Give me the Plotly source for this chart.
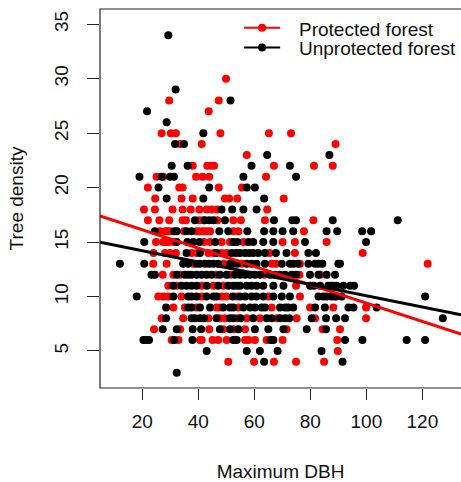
import plotly.graph_objects as go

# (Maximum DBH, Tree density)
protected = [
    (49.9, 30),
    (29.6, 28), (47.3, 28),
    (43.7, 27),
    (26.9, 25), (30.2, 25), (32.0, 25), (47.9, 25), (65.2, 25), (73.1, 25),
    (33.5, 24), (41.2, 24), (89.0, 24),
    (57.3, 23),
    (38.0, 22), (43.2, 22), (44.4, 22), (45.6, 22), (67.0, 22), (81.3, 22), (88.0, 22),
    (25.1, 21), (27.5, 21), (39.2, 21), (41.5, 21), (43.9, 21), (64.2, 21),
    (22.0, 20), (33.2, 20), (34.4, 20), (47.3, 20), (55.6, 20),
    (24.6, 19), (34.0, 19), (38.0, 19), (49.5, 19), (51.0, 19), (53.9, 19), (70.5, 19),
    (20.6, 18), (24.5, 18), (30.8, 18), (34.4, 18), (37.3, 18), (40.4, 18), (43.0, 18),
    (44.8, 18), (46.8, 18), (64.6, 18),
    (22.0, 17), (26.1, 17), (29.6, 17), (34.4, 17), (35.6, 17), (40.4, 17), (41.8, 17),
    (46.8, 17), (52.5, 17), (55.2, 17), (63.8, 17), (81.1, 17),
    (26.3, 16), (28.1, 16), (29.0, 16), (29.9, 16), (34.9, 16), (39.4, 16), (40.4, 16),
    (41.8, 16), (43.0, 16), (44.2, 16), (52.5, 16), (54.3, 16), (77.7, 16),
    (24.9, 15), (27.5, 15), (28.5, 15), (29.3, 15), (31.1, 15), (42.0, 15), (44.2, 15),
    (48.3, 15), (51.3, 15), (56.1, 15), (70.1, 15), (74.5, 15), (85.8, 15),
    (24.0, 14), (28.1, 14), (29.9, 14), (32.0, 14), (37.6, 14), (39.4, 14), (43.6, 14),
    (45.4, 14), (48.3, 14), (50.1, 14), (65.4, 14), (74.5, 14), (98.7, 14),
    (23.9, 13), (28.7, 13), (38.2, 13), (49.2, 13), (55.5, 13), (66.2, 13), (67.7, 13),
    (76.3, 13), (121.9, 13),
    (27.3, 12), (31.1, 12), (33.5, 12), (46.5, 12), (51.5, 12), (63.6, 12), (76.1, 12), (83.5, 12),
    (29.3, 11), (32.3, 11), (41.2, 11), (45.4, 11), (48.9, 11), (74.9, 11), (88.2, 11),
    (25.7, 10), (27.5, 10), (29.3, 10), (34.0, 10), (41.2, 10), (48.3, 10), (50.1, 10),
    (53.7, 10), (65.0, 10), (76.3, 10), (89.4, 10),
    (31.1, 9), (35.2, 9), (39.4, 9), (46.5, 9), (47.7, 9), (54.3, 9), (66.2, 9), (79.9, 9),
    (88.2, 9), (99.9, 9),
    (26.9, 8), (34.6, 8), (43.6, 8), (47.7, 8), (49.5, 8), (53.9, 8), (57.3, 8), (62.0, 8),
    (68.0, 8), (75.1, 8), (81.7, 8), (99.9, 8),
    (24.2, 7), (33.5, 7), (43.9, 7), (48.9, 7), (52.5, 7), (56.7, 7), (71.5, 7), (84.4, 7), (90.6, 7),
    (30.5, 6), (32.9, 6), (40.6, 6), (41.2, 6), (45.1, 6), (47.1, 6), (50.1, 6), (56.7, 6),
    (57.9, 6), (60.2, 6), (64.4, 6), (70.1, 6), (89.6, 6),
    (89.8, 5),
    (50.7, 4), (59.9, 4), (67.0, 4), (74.9, 4), (84.9, 4),
]

unprotected = [
    (29.3, 34),
    (31.9, 29),
    (51.5, 28),
    (21.7, 27),
    (28.7, 26),
    (41.8, 25),
    (31.7, 24), (34.9, 24),
    (64.6, 23), (86.8, 23),
    (30.5, 22), (36.2, 22), (59.0, 22), (72.7, 22),
    (19.0, 21), (26.9, 21), (29.9, 21), (31.3, 21), (56.1, 21), (74.9, 21),
    (25.8, 20), (43.9, 20), (57.3, 20), (60.2, 20),
    (28.7, 19), (41.8, 19), (63.5, 19),
    (48.3, 18), (52.1, 18), (56.1, 18), (60.8, 18),
    (38.8, 17), (42.3, 17), (43.9, 17), (45.4, 17), (49.5, 17), (67.0, 17), (73.6, 17),
    (74.9, 17), (88.0, 17), (111.2, 17),
    (24.5, 16), (31.4, 16), (32.3, 16), (35.8, 16), (37.6, 16), (47.5, 16), (50.7, 16),
    (57.5, 16), (63.5, 16), (66.8, 16), (70.1, 16), (73.9, 16), (85.8, 16), (89.6, 16),
    (98.5, 16), (101.7, 16),
    (20.7, 15), (32.3, 15), (36.1, 15), (38.2, 15), (40.4, 15), (46.0, 15), (52.5, 15),
    (53.9, 15), (57.9, 15), (59.6, 15), (63.2, 15), (66.8, 15), (78.1, 15), (99.9, 15),
    (35.8, 14), (40.6, 14), (46.5, 14), (51.9, 14), (53.5, 14), (54.9, 14), (56.7, 14),
    (58.2, 14), (59.6, 14), (61.4, 14), (63.8, 14), (67.7, 14), (71.5, 14), (79.3, 14), (82.0, 14),
    (12.0, 13), (20.7, 13), (34.6, 13), (36.4, 13), (39.4, 13), (40.6, 13), (42.4, 13),
    (43.9, 13), (45.4, 13), (47.1, 13), (51.3, 13), (52.5, 13), (53.9, 13), (57.3, 13),
    (59.0, 13), (60.8, 13), (63.8, 13), (69.8, 13), (72.7, 13), (73.9, 13), (75.5, 13),
    (79.3, 13), (81.7, 13), (82.9, 13), (84.3, 13), (90.0, 13), (90.6, 13),
    (23.3, 12), (24.5, 12), (32.3, 12), (35.2, 12), (36.4, 12), (37.6, 12), (39.4, 12),
    (41.2, 12), (43.0, 12), (44.8, 12), (47.7, 12), (50.1, 12), (53.1, 12), (54.9, 12),
    (56.7, 12), (58.5, 12), (60.2, 12), (62.0, 12), (65.6, 12), (67.4, 12), (69.2, 12),
    (71.0, 12), (73.3, 12), (74.9, 12), (79.9, 12), (82.9, 12), (85.8, 12), (88.8, 12),
    (31.0, 11), (34.0, 11), (35.8, 11), (37.6, 11), (39.4, 11), (43.0, 11), (47.1, 11),
    (50.7, 11), (52.5, 11), (53.7, 11), (54.9, 11), (57.3, 11), (59.0, 11), (60.8, 11),
    (63.2, 11), (66.8, 11), (70.4, 11), (79.9, 11), (81.3, 11), (83.5, 11), (86.4, 11),
    (87.6, 11), (89.4, 11), (91.8, 11), (94.2, 11), (95.6, 11),
    (18.0, 10), (31.1, 10), (36.4, 10), (37.6, 10), (39.4, 10), (43.0, 10), (45.4, 10),
    (46.5, 10), (52.3, 10), (54.9, 10), (56.7, 10), (59.0, 10), (60.8, 10), (63.2, 10),
    (66.8, 10), (69.8, 10), (72.7, 10), (82.9, 10), (84.6, 10), (85.8, 10), (87.6, 10),
    (88.8, 10), (91.2, 10), (121.0, 10),
    (28.5, 9), (36.4, 9), (37.6, 9), (40.6, 9), (44.2, 9), (48.9, 9), (51.3, 9), (52.5, 9),
    (56.1, 9), (58.5, 9), (60.2, 9), (62.6, 9), (63.8, 9), (69.2, 9), (71.0, 9), (72.1, 9),
    (73.9, 9), (81.7, 9), (85.2, 9), (93.6, 9), (95.4, 9), (103.7, 9),
    (28.5, 8), (37.6, 8), (38.8, 8), (40.6, 8), (42.0, 8), (46.5, 8), (51.3, 8), (52.5, 8),
    (55.1, 8), (59.6, 8), (64.4, 8), (66.2, 8), (69.2, 8), (71.0, 8), (72.5, 8), (80.5, 8),
    (85.6, 8), (89.2, 8), (92.4, 8), (127.3, 8),
    (27.3, 7), (32.3, 7), (38.0, 7), (41.0, 7), (47.7, 7), (51.3, 7), (54.3, 7), (60.2, 7),
    (65.0, 7), (70.4, 7), (78.7, 7), (85.6, 7),
    (20.4, 6), (21.3, 6), (22.4, 6), (31.4, 6), (37.9, 6), (52.5, 6), (53.7, 6), (65.8, 6),
    (66.8, 6), (92.4, 6), (98.6, 6), (114.4, 6), (121.0, 6),
    (43.0, 5), (57.3, 5), (62.0, 5), (68.3, 5), (84.0, 5),
    (63.5, 4), (91.5, 4),
    (32.3, 3),
]

# fitted regression lines: (intercept, slope)
protected_fit = (17.82, -0.0842)
unprotected_fit = (15.25, -0.0517)

x_ticks = [20, 40, 60, 80, 100, 120]
y_ticks = [5, 10, 15, 20, 25, 30, 35]
x_range = [4.9, 133.8]
y_range = [1.6, 36.4]

series_names = ["Protected forest", "Unprotected forest"]
RED = "#FF0000"
BLACK = "#000000"
FONT = "Liberation Sans, Arial, sans-serif"

fig = go.Figure()
for pts, col, name in [(protected, RED, series_names[0]), (unprotected, BLACK, series_names[1])]:
    xs, ys = zip(*pts)
    fig.add_trace(go.Scatter(x=list(xs), y=list(ys), mode="markers", name=name,
                             marker=dict(color=col, size=8, line=dict(width=0)),
                             showlegend=False))

for fit, col in [(protected_fit, RED), (unprotected_fit, BLACK)]:
    a, b = fit
    fig.add_trace(go.Scatter(x=x_range, y=[a + b * x_range[0], a + b * x_range[1]],
                             mode="lines", line=dict(color=col, width=3),
                             showlegend=False, hoverinfo="skip"))

# plot box (right side falls outside the window, as in the reference)
shapes = [dict(type="rect", xref="paper", yref="paper", x0=0, x1=1.05, y0=0, y1=1,
               line=dict(color="#222222", width=1.2), layer="above")]
annotations = []

# manual legend (R-style, no box)
legend_rows = [(series_names[0], RED, 0.9507), (series_names[1], BLACK, 0.8987)]
for name, col, yy in legend_rows:
    shapes.append(dict(type="line", xref="paper", yref="paper", x0=0.399, x1=0.499,
                       y0=yy, y1=yy, line=dict(color=col, width=2)))
    shapes.append(dict(type="circle", xref="paper", yref="paper",
                       xsizemode="pixel", ysizemode="pixel",
                       xanchor=0.449, yanchor=yy, x0=-4, x1=4, y0=-4, y1=4,
                       fillcolor=col, line=dict(width=0)))
    annotations.append(dict(xref="paper", yref="paper", x=0.5457, y=yy - 0.004,
                            xanchor="left", yanchor="middle", text=name, showarrow=False,
                            font=dict(family=FONT, size=19, color="#111111")))

fig.update_layout(
    width=461, height=482,
    margin=dict(l=100, r=0, t=9, b=94),
    paper_bgcolor="white", plot_bgcolor="white",
    font=dict(family=FONT, size=19, color="#111111"),
    showlegend=False,
    shapes=shapes, annotations=annotations,
    xaxis=dict(range=x_range, tickvals=x_ticks, ticks="outside", ticklen=11,
               tickwidth=1.2, tickcolor="#222222", showgrid=False, zeroline=False,
               showline=False, ticklabelstandoff=5, automargin=False,
               title=dict(text="Maximum DBH", standoff=33, font=dict(size=19))),
    yaxis=dict(range=y_range, tickvals=y_ticks, ticks="outside", ticklen=12,
               tickwidth=1.2, tickcolor="#222222", showgrid=False, zeroline=False,
               showline=False, tickangle=-90, ticklabelstandoff=11, automargin=False,
               title=dict(text="Tree density", standoff=22, font=dict(size=19))),
)

fig.write_html(
    "out.html",
    config={"displayModeBar": False},
    post_script="document.body.style.margin='0';document.body.style.overflow='hidden';",
)
